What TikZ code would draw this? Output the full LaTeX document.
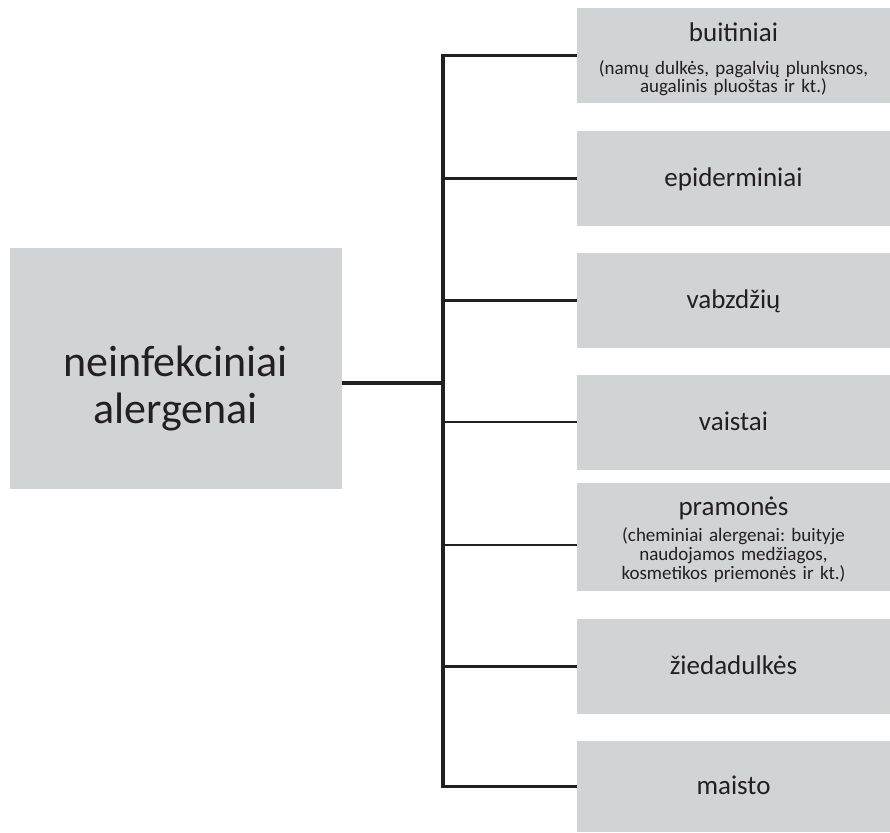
\documentclass[tikz,border=0pt]{standalone}
\usepackage{fontspec}
\setmainfont{Carlito}
\usepackage{xcolor}
\usepackage{tikz}
\usetikzlibrary{positioning}

\definecolor{boxgray}{HTML}{D1D3D4}
\definecolor{inkdark}{HTML}{231F20}
\frenchspacing

\begin{document}
\begin{tikzpicture}[x=1pt, y=-1pt,
		every node/.style={text=inkdark},
		groupbox/.style={fill=boxgray, minimum width=313pt, minimum height=95pt, inner sep=0pt},
		onelabel/.style={groupbox, font=\fontsize{27}{30}\selectfont, text height=18.9pt, text depth=2.7pt},
		notebox/.style={groupbox, text width=313pt, align=center,
			font={\fontsize{19}{18.5}\selectfont\lineskiplimit=-20pt}},
		branch/.style={draw=inkdark, line width=2.7pt},
		trunkline/.style={draw=inkdark, line width=3.3pt, line cap=rect}]
		
		\useasboundingbox (0,0) rectangle (890,832);
		
		% Main group
		\node[fill=boxgray, minimum width=331.5pt, minimum height=241pt, inner sep=0pt,
			label={[align=center, text=inkdark, font={\fontsize{44}{47}\selectfont}, yshift=-20pt]center:neinfekciniai\\alergenai}]
			(alergenai) at (175.75,368.5) {};
		
		% Groups
		\node[notebox] (buitiniai) at (733.5,55.5) {
			{\fontsize{27}{18.5}\selectfont\rule{0pt}{26pt}buitiniai}\\[14.5pt]
			(namų dulkės, pagalvių plunksnos,\\
			augalinis pluoštas ir kt.)
		};
		\node[onelabel] (epiderminiai) at (733.5,178.5) {epiderminiai};
		\node[onelabel] (vabzdziu) at (733.5,300.5) {vabzdžių};
		\node[onelabel] (vaistai) at (733.5,422) {vaistai};
		\node[notebox, minimum height=108pt, font={\fontsize{19}{19}\selectfont\lineskiplimit=-20pt}] (pramones) at (733.5,537) {
			{\fontsize{27}{19}\selectfont\rule{0pt}{25pt}pramonės}\\[7pt]
			(cheminiai alergenai: buityje\\
			naudojamos medžiagos,\\
			kosmetikos priemonės ir kt.)
		};
		\node[onelabel] (ziedadulkes) at (733.5,666.5) {žiedadulkės};
		\node[onelabel, minimum height=91pt] (maisto) at (733.5,786.5) {maisto};
		
		% Trunk
		\coordinate (fork) at (443,383);
		\coordinate (pramtap) at ([yshift=-8pt]pramones.west);
		\draw[trunkline, shorten <=2pt] ([yshift=-14.5pt]alergenai.east) -- (fork);
		\draw[trunkline] (fork |- buitiniai.west) -- (fork |- maisto.west);
		
		% Branches to the groups
		\foreach \grp in {buitiniai, epiderminiai, vabzdziu, vaistai, ziedadulkes, maisto}
			\draw[branch] (fork |- \grp.west) -- (\grp.west);
		\draw[branch] (fork |- pramtap) -- (pramtap);
		
	\end{tikzpicture}
\end{document}
